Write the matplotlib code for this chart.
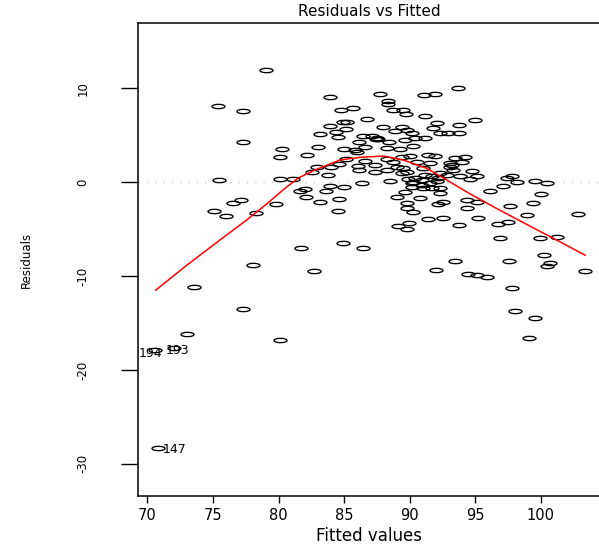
import matplotlib
matplotlib.use("Agg")
import matplotlib.pyplot as plt
from matplotlib.path import Path
from matplotlib.markers import MarkerStyle
from matplotlib.transforms import Affine2D

# ---- data ----
fitted = [79.05, 75.37, 77.27, 77.27, 75.49, 77.12, 76.56, 75.06, 75.97, 78.31,
          79.79, 78.03, 73.58, 77.27, 73.00, 72.06, 70.60, 70.84,
          80.24, 80.11, 80.11, 81.13, 80.09, 81.71, 82.15, 83.03, 82.91, 83.98,
          84.61, 82.58, 83.80, 83.93, 84.97, 82.04, 81.66, 83.60, 82.12, 84.64,
          83.16, 84.51, 84.94, 86.42, 82.71, 83.95, 84.76, 85.65, 86.72, 84.94,
          85.20, 83.93, 84.36, 85.12, 83.19, 84.53, 86.46, 86.11, 84.99, 85.83,
          85.96, 86.60, 85.12, 86.08, 86.14, 86.39, 86.60,
          87.74, 91.11, 91.90, 93.66, 88.37, 88.37, 88.75, 89.51, 89.69, 91.17,
          94.98, 92.06, 93.78, 91.80, 87.99, 88.88, 89.39, 89.77, 90.15, 92.31,
          92.90, 93.78, 87.10, 87.43, 87.60, 87.50, 90.40, 91.17, 88.45, 89.64,
          90.28, 88.25, 89.26, 91.42, 91.93, 93.45, 94.21, 89.39, 90.02, 88.25,
          88.75, 90.53, 91.55, 93.07, 93.96, 87.36, 88.25, 89.01, 89.51, 91.04,
          93.07, 93.20, 94.72, 89.39, 89.77, 90.40, 91.17, 91.68, 92.82, 93.83,
          94.60, 95.10, 92.13, 92.31, 90.15, 90.91, 91.55, 92.06, 90.15, 91.04,
          91.68, 92.31, 92.31, 96.12, 97.13, 97.39, 97.77, 98.20, 99.55, 100.44,
          89.01, 89.64, 90.78, 89.77, 89.77, 90.27, 92.18, 92.56, 94.34, 95.10,
          94.34, 97.65, 99.42, 100.00, 98.92, 102.80, 91.42, 92.56, 95.23, 96.76,
          97.47, 93.78, 89.13, 89.97, 89.82, 96.89, 99.93, 101.20, 93.45, 97.59,
          100.23, 100.69, 100.44, 103.38, 92.00, 94.47, 95.10, 95.87, 97.77, 98.03,
          99.55, 99.09, 87.36, 88.50, 90.27, 93.33, 89.9, 90.9]
residuals = [11.97, 8.17, 7.63, 4.26, 0.21, -1.92, -2.24, -3.06, -3.63, -3.31,
             -2.28, -8.82, -11.20, -13.50, -16.20, -17.63, -17.90, -28.36,
             3.58, 2.73, 0.35, 0.38, -16.81, -7.00, 2.88, 3.76, 1.63, 1.60,
             1.92, 1.13, 0.75, -0.39, -0.53, -0.75, -0.96, -0.89, -1.60, -1.81,
             -2.06, -3.09, -6.44, -7.00, -9.42, 9.13, 7.71, 7.92, 6.75, 6.46,
             6.46, 6.00, 5.36, 5.72, 5.15, 4.83, 4.94, 4.30, 3.55, 3.44,
             3.23, 3.80, 2.45, 1.74, 1.31, -0.11, 2.27,
             9.38, 9.31, 9.45, 10.09, 8.67, 8.35, 7.71, 7.71, 7.25, 7.07,
             6.64, 6.29, 6.14, 5.82, 5.93, 5.50, 5.93, 5.58, 5.29, 5.29,
             5.29, 5.29, 4.97, 4.58, 4.62, 4.70, 4.76, 4.76, 4.30, 4.51,
             3.90, 3.62, 3.52, 2.91, 2.84, 2.56, 2.73, 2.73, 2.84, 2.45,
             2.20, 2.20, 2.03, 2.03, 2.16, 1.84, 1.31, 1.66, 1.49, 1.49,
             1.60, 1.84, 1.24, 1.02, 1.13, 0.43, 0.78, 0.67, 0.78, 0.67,
             0.35, 0.67, 0.43, 0.96, -0.11, 0.25, -0.04, 0.17, -0.47, -0.64,
             -0.64, -0.64, -1.17, -0.93, -0.39, 0.43, 0.71, 0.06, 0.17, -0.11,
             -1.53, -1.07, -1.71, -2.24, -2.70, -3.13, -2.31, -2.07, -1.89, -2.13,
             -2.77, -2.53, -2.17, -1.28, -3.52, -3.38, -3.95, -3.81, -3.84, -4.48,
             -4.26, -4.58, -4.66, -4.37, -5.01, -5.97, -5.97, -5.86, -8.39, -8.39,
             -7.79, -8.64, -8.92, -9.46, -9.31, -9.81, -9.92, -10.13, -11.30, -13.69,
             -14.43, -16.63, 1.07, 0.14, 0.06, 1.31, 0.30, -0.30]

id_labels = ["147", "194", "193"]
id_index = [17, 16, 15]

smooth_x = [70.64, 73.0, 75.54, 77.5, 79.2, 80.4, 81.5, 82.78, 84.69, 86.2, 87.99,
            89.51, 91.3, 92.82, 94.5, 96.37, 98.8, 101.2, 103.38]
smooth_y = [-11.5, -8.85, -6.15, -4.1, -2.2, -0.75, 0.45, 1.31, 2.38, 2.66, 2.8,
            2.38, 1.49, 0.25, -1.15, -2.6, -4.4, -6.15, -7.78]

x_ticks = [70, 75, 80, 85, 90, 95, 100]
y_ticks = [-30, -20, -10, 0, 10]

title_text = "Residuals vs Fitted"
x_label = "Fitted values"
y_label = "Residuals"

# ---- figure ----
W, H = 599, 546
fig = plt.figure(figsize=(W / 100, H / 100), dpi=100)
plt.rcParams['font.family'] = ['DejaVu Sans']
left_px, right_px, top_px, bottom_px = 138, 601, 23, 496
ax = fig.add_axes([left_px / W, 1 - bottom_px / H,
                   (right_px - left_px) / W, (bottom_px - top_px) / H])
ax.set_xlim(69.29, 104.58)
ax.set_ylim(-33.44, 16.98)

# horizontal ellipse marker (reference is horizontally stretched)
ell = Path.unit_circle().transformed(Affine2D().scale(1.0, 0.33))
marker = MarkerStyle(ell)

ax.axhline(0, color="#c8c8c8", lw=1.0, ls=(0, (1, 5)), zorder=1)
ax.plot(fitted, residuals, linestyle="none", marker=marker, markersize=9.4,
        markerfacecolor="none", markeredgecolor="black", markeredgewidth=0.95,
        zorder=3)
ax.plot(smooth_x, smooth_y, color="red", lw=1.1, zorder=4)

# id labels (pixel offsets from the point)
label_offsets_px = {"147": (4, -1), "194": (-17, -3), "193": (-9, -3)}
for lab, i in zip(id_labels, id_index):
    dx, dy = label_offsets_px[lab]
    ax.annotate(lab, (fitted[i], residuals[i]),
                xytext=(dx * 0.72, dy * 0.72), textcoords="offset points",
                ha="left", va="center", fontsize=9, annotation_clip=False)

ax.spines["right"].set_visible(False)
for side in ["left", "top", "bottom"]:
    ax.spines[side].set_linewidth(1.1)

ax.set_xticks(x_ticks)
ax.set_xticklabels([str(t) for t in x_ticks])
ax.set_yticks(y_ticks)
ax.set_yticklabels([str(t) for t in y_ticks], rotation=90, va="center")
ax.tick_params(axis="x", direction="out", length=5, width=1, pad=4,
               labelsize=10.5)
ax.tick_params(axis="y", direction="out", length=12, width=1, pad=23,
               labelsize=8.5)

ax.set_title(title_text, fontsize=11, y=(bottom_px - 12) / (bottom_px - top_px),
             va="center", pad=0)
ax.set_xlabel(x_label, fontsize=12, va="center")
ax.xaxis.set_label_coords(0.5, (bottom_px - 536) / (bottom_px - top_px))
ax.set_ylabel(y_label, fontsize=8.5, va="center")
ax.yaxis.set_label_coords((26 - left_px) / (right_px - left_px), 0.5)

fig.savefig("out.png", dpi=100)
